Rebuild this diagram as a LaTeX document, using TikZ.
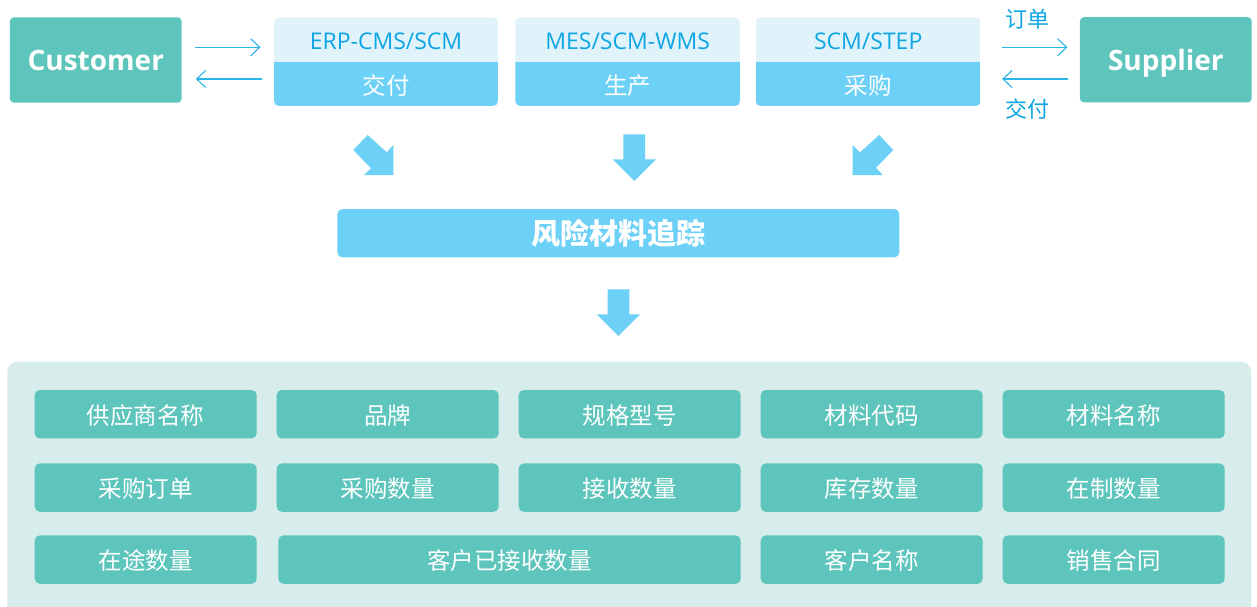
\documentclass[tikz,border=0pt]{standalone}
\usepackage{fontspec}
\setmainfont{Open Sans}
\newfontfamily\cjk{Noto Sans CJK SC}
\usetikzlibrary{arrows.meta,calc}
\definecolor{cteal}{HTML}{5DC5BC}
\definecolor{cpanel}{HTML}{D6EDEB}
\definecolor{cblue}{HTML}{6DD0F7}
\definecolor{clight}{HTML}{E0F3FB}
\definecolor{ctext}{HTML}{0DA5E5}
\definecolor{cline}{HTML}{2AB5E8}
\newcommand\sysbox[6]{%
  \begin{scope}
    \clip[rounded corners=5pt] (#2,17.3) rectangle (#3,106);
    \fill[clight] (#2,17.3) rectangle (#3,62.3);
    \fill[cblue] (#2,62.3) rectangle (#3,106);
  \end{scope}
  \node[systop, minimum width={(#3-#2)*1pt}] (#1) at ({(#2+#3)/2},39.8) {#4};
  \node[sysbot, minimum width={(#3-#2)*1pt}] (#6) at ({(#2+#3)/2},84.2) {\cjk #5};
}
\newcommand\gridbox[5]{%
  \node[gbox, minimum width={(#3-#2)*1pt}] (#1) at ({(#2+#3)/2},#4) {\cjk #5};
}
\begin{document}
\begin{tikzpicture}[x=1pt,y=-1pt,
  ext/.style={fill=cteal, rounded corners=4pt, minimum width=171.7pt, minimum height=85.3pt,
    inner sep=0pt, text height=22pt, text depth=0pt, text=white, font=\fontsize{28}{30}\selectfont\bfseries},
  systop/.style={minimum height=45pt, inner sep=0pt, text height=20.4pt, text depth=0pt,
    text=ctext, font=\fontsize{23}{25}\selectfont},
  sysbot/.style={minimum height=43.7pt, inner sep=0pt, text height=21.4pt, text depth=0pt,
    text=white, font=\fontsize{23.5}{25}\selectfont},
  conn/.style={draw=cline, line width=1.1pt, -{Straight Barb[length=9pt,width=17pt]}},
  lbl/.style={inner sep=0pt, text=ctext, font=\fontsize{22}{24}\selectfont\cjk},
  blk/.style={fill=cblue},
  gbox/.style={fill=cteal, rounded corners=5pt, minimum height=48.3pt, inner sep=0pt,
    text height=20.4pt, text depth=0pt, text=white, font=\fontsize{23.5}{25}\selectfont},
]
\useasboundingbox (0,0) rectangle (1257,607);
\clip (0,0) rectangle (1257,607);
\fill[white] (0,0) rectangle (1257,607);

% top row
\node[ext] (cust) at (95.8,60) {Customer};
\node[ext] (sup) at (1165.8,59.8) {Supplier};
\sysbox{erp}{274}{498}{ERP-CMS/SCM}{交付}{erpb}
\sysbox{mes}{515.3}{740}{MES/SCM-WMS}{生产}{mesb}
\sysbox{scm}{755.7}{980.7}{SCM/STEP}{采购}{scmb}

% thin connectors
\draw[conn] ([shift={(13.3,-12.7)}]cust.east) -- ([shift={(-13.3,7.5)}]erp.west);
\draw[conn] ([shift={(-12.3,-5.2)}]erpb.west) -- ([shift={(14,19)}]cust.east);
\draw[conn] ([shift={(21,7.5)}]scm.east) -- ([shift={(-12.3,-12.5)}]sup.west);
\draw[conn] ([shift={(-12,19.2)}]sup.west) -- ([shift={(21.3,-5.2)}]scmb.east);
\node[lbl] (lorder) at (1027.7,19.5) {订单};
\node[lbl] (ldeliv) at (1027.7,109.5) {交付};

% block arrows
\fill[blk] (353.3,150) -- (367.7,135) -- (386.7,152.3) -- (393.3,145) -- (393.3,175) -- (364,175) -- (371,168.3) -- cycle;
\fill[blk] (623.3,134.3) -- (645,134.3) -- (645,159.3) -- (656,159.3) -- (634.3,181) -- (612.7,159.3) -- (623.3,159.3) -- cycle;
\fill[blk] (893.3,150) -- (879.3,135) -- (860,152.3) -- (852.7,145) -- (852.7,175) -- (882.7,175) -- (876,167.7) -- cycle;

% risk bar
\node[fill=cblue, rounded corners=5pt, minimum width=562pt, minimum height=48.3pt, inner sep=0pt,
  text height=21.6pt, text depth=0pt,
  text=white, font=\fontsize{29}{31}\selectfont\cjk\bfseries] (risk) at (618.3,233.2) {风险材料追踪};

\fill[blk] (607.7,289.3) -- (629.3,289.3) -- (629.3,314.3) -- (640,314.3) -- (618.3,336) -- (596.7,314.3) -- (607.7,314.3) -- cycle;

% panel
\fill[cpanel, rounded corners=10pt] (7.3,361.7) rectangle (1251,630);

\gridbox{g11}{34.7}{256.7}{414.2}{供应商名称}
\gridbox{g12}{276.7}{498.7}{414.2}{品牌}
\gridbox{g13}{518.7}{740.7}{414.2}{规格型号}
\gridbox{g14}{760.7}{982.7}{414.2}{材料代码}
\gridbox{g15}{1002.7}{1224.7}{414.2}{材料名称}
\gridbox{g21}{34.7}{256.7}{487.6}{采购订单}
\gridbox{g22}{276.7}{498.7}{487.6}{采购数量}
\gridbox{g23}{518.7}{740.7}{487.6}{接收数量}
\gridbox{g24}{760.7}{982.7}{487.6}{库存数量}
\gridbox{g25}{1002.7}{1224.7}{487.6}{在制数量}
\gridbox{g31}{34.7}{256.7}{559.6}{在途数量}
\gridbox{g32}{278.3}{740.7}{559.6}{客户已接收数量}
\gridbox{g34}{760.7}{982.7}{559.6}{客户名称}
\gridbox{g35}{1002.7}{1224.7}{559.6}{销售合同}
\end{tikzpicture}
\end{document}
